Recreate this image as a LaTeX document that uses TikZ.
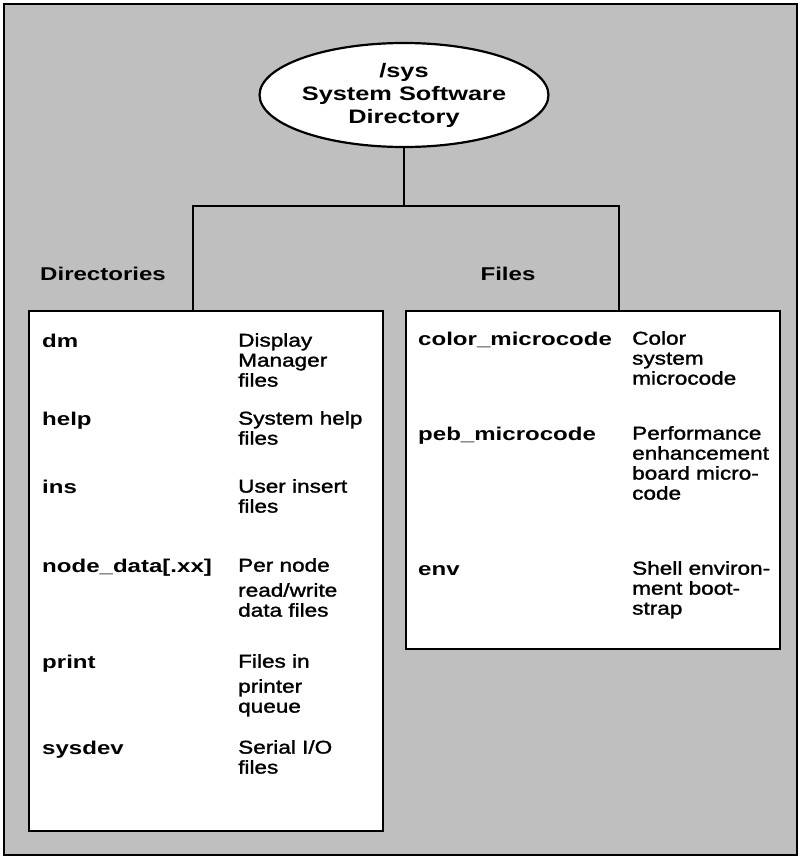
\documentclass[tikz,border=0pt]{standalone}
\usepackage{fontspec}
\setmainfont{Liberation Sans}[FakeStretch=1.3]
\newfontfamily\descfam{Liberation Sans}[FakeStretch=1.22,FakeBold=1.5]
\usetikzlibrary{shapes.geometric}
\newcommand{\namefont}{\bfseries\fontsize{18.5pt}{20pt}\selectfont}
\newcommand{\descfont}{\descfam\fontsize{18.5pt}{20pt}\selectfont}
\newcommand{\rootfont}{\bfseries\fontsize{19.5pt}{23pt}\selectfont}
\colorlet{dither}{black!25}
\tikzset{
  frameline/.style = {line width=2.2pt},
  listbox/.style   = {rectangle,draw,line width=2.2pt,fill=white,inner sep=0pt,anchor=north west},
  rootnode/.style  = {ellipse,draw,line width=2.2pt,fill=white,inner sep=0pt,
                      minimum width=282pt,minimum height=104pt,align=center,font=\rootfont},
  heading/.style   = {inner sep=0pt,font=\namefont},
  entryname/.style = {anchor=north west,inner sep=0pt,font=\namefont,execute at begin node=\strut},
  entrydesc/.style = {anchor=north west,inner sep=0pt,font=\descfont,align=left,execute at begin node=\strut}
}
% id, name x, text x, baseline, name, text
\newcommand{\listentry}[6]{%
  \node[entryname] (#1-name) at (#2,#4-14) {#5};
  \node[entrydesc] (#1-desc) at (#3,#4-14) {#6};
}
\begin{document}
\begin{tikzpicture}[x=1pt,y=-1pt]
  \useasboundingbox (0,0) rectangle (801,859);
  \draw[frameline,fill=dither] (4,4) rectangle (797,855);
  \node[rootnode] (sysroot) at (404,95) {/sys\\System Software\\Directory};
  \node[listbox,minimum width=354pt,minimum height=520pt] (dirbox) at (28,310) {};
  \node[listbox,minimum width=374pt,minimum height=338pt] (filebox) at (405,310) {};
  % tree connectors
  \coordinate (barlevel) at (0,206);
  \coordinate (fork) at (sysroot.south |- barlevel);
  \coordinate (dirtop) at ([xshift=-13pt]dirbox.north);
  \coordinate (filetop) at ([xshift=26pt]filebox.north);
  \draw[frameline] (sysroot.south) -- (fork);
  \draw[frameline] (dirtop) |- (fork) -| (filetop);
  \node[heading,anchor=base west] (dirhead) at (40,280) {Directories};
  \node[heading,anchor=base] (filehead) at (508,280) {Files};
  % directories
  \listentry{dm}{42}{238}{347}{dm}{Display\\Manager\\files}
  \listentry{help}{42}{238}{425}{help}{System help\\files}
  \listentry{ins}{42}{238}{493}{ins}{User insert\\files}
  \listentry{nodedata}{42}{238}{572}{node\_data[.xx]}{Per node\\[5pt]read/write\\data files}
  \listentry{print}{42}{238}{668}{print}{Files in\\[5pt]printer\\queue}
  \listentry{sysdev}{42}{238}{754}{sysdev}{Serial I/O\\files}
  % files
  \listentry{color}{418}{632}{345}{color\_microcode}{Color\\system\\microcode}
  \listentry{peb}{418}{632}{440}{peb\_microcode}{Performance\\enhancement\\board micro-\\code}
  \listentry{env}{418}{632}{575}{env}{Shell environ-\\ment boot-\\strap}
\end{tikzpicture}
\end{document}
